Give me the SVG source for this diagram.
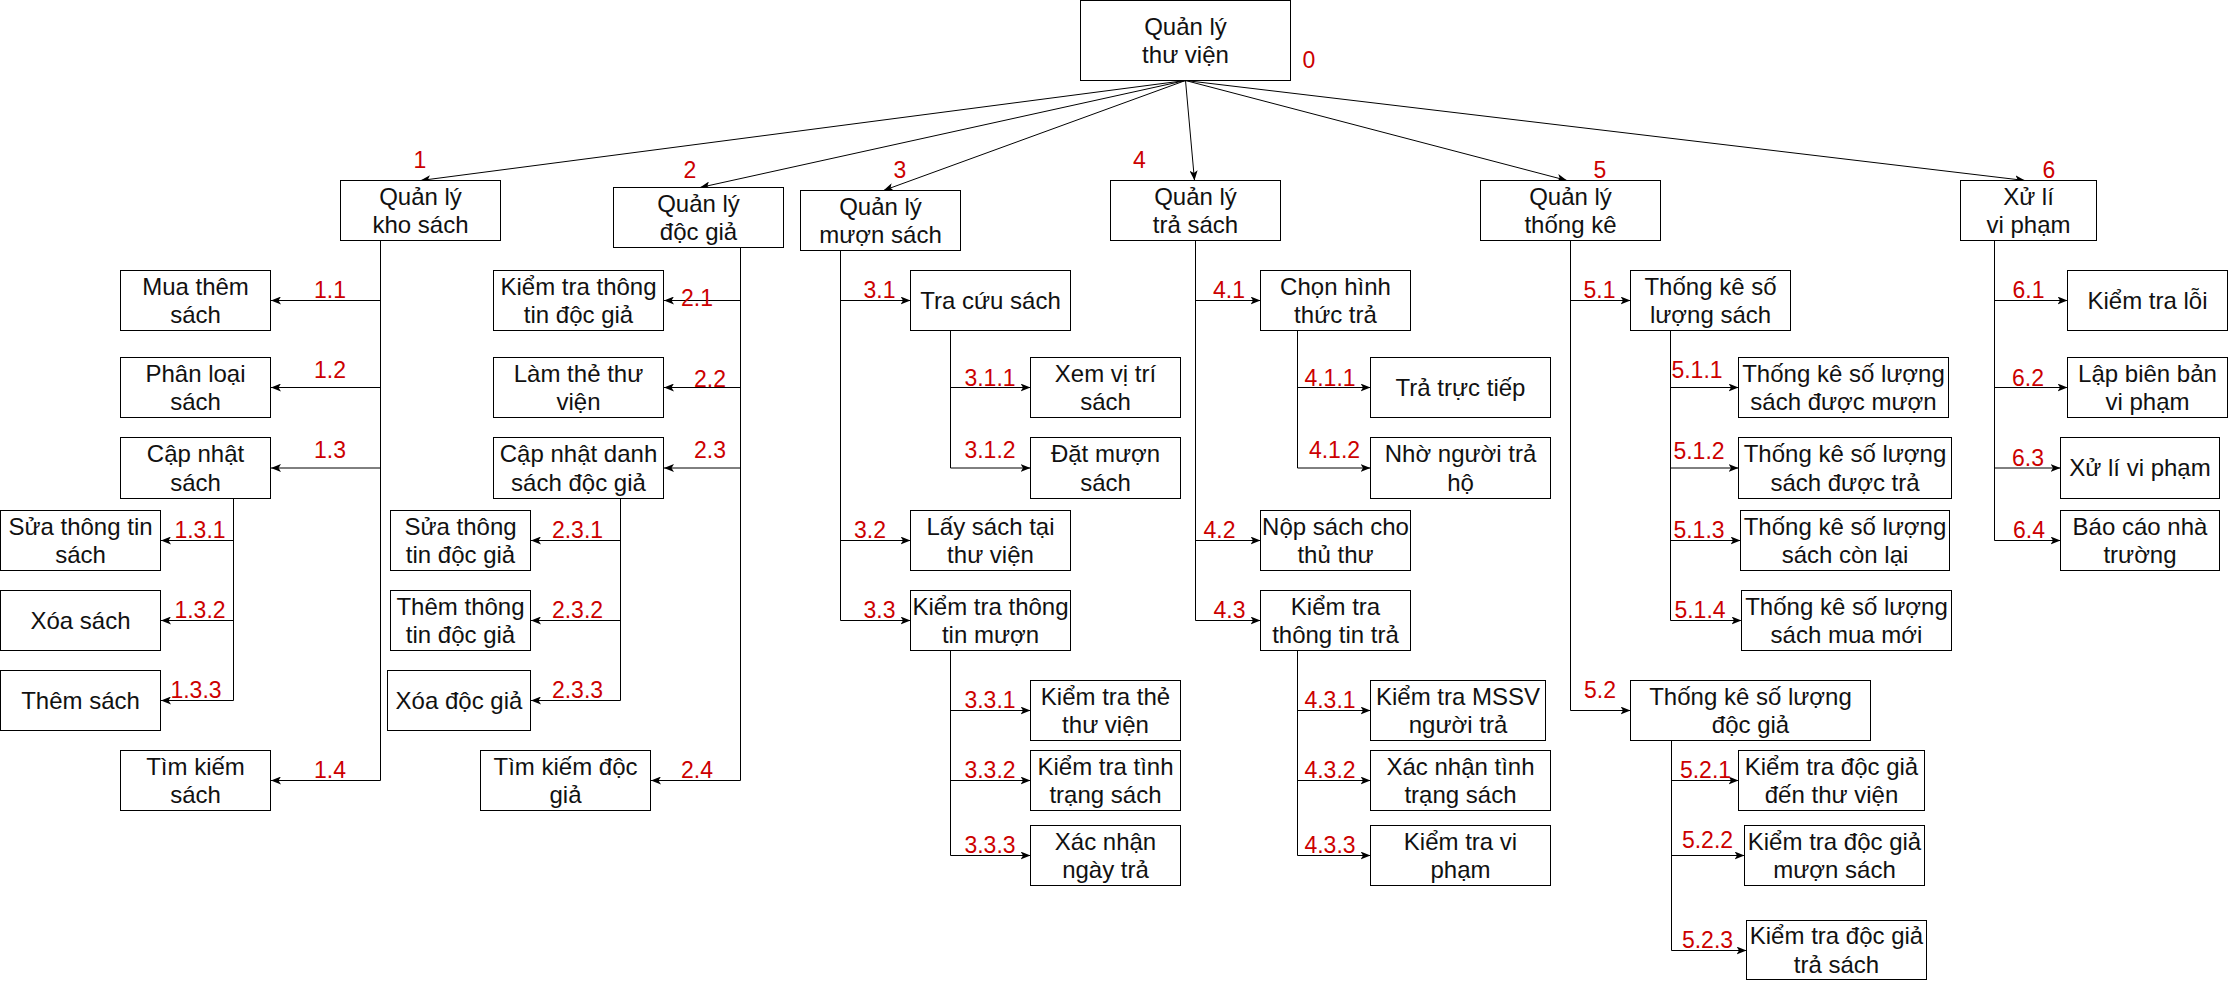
<svg xmlns="http://www.w3.org/2000/svg" width="2228" height="981" viewBox="0 0 2228 981">
  <style>
    .box { fill: #ffffff; stroke: #000000; stroke-width: 1; }
    .t { font-family: "Liberation Sans", Arial, sans-serif; font-size: 24px; fill: #111111; text-anchor: middle; }
    .n { font-family: "Liberation Sans", Arial, sans-serif; font-size: 23px; fill: #cc0000; text-anchor: middle; }
    .c { fill: none; stroke: #000000; stroke-width: 1; }
    .a { fill: none; stroke: #000000; stroke-width: 1; marker-end: url(#arrow); }
  </style>
  <defs>
    <marker id="arrow" viewBox="0 0 10 8" refX="10" refY="4" markerWidth="10" markerHeight="8" markerUnits="userSpaceOnUse" orient="auto">
      <path d="M0,0 L10,4 L0,8 L2.5,4 z" fill="#000000"/>
    </marker>
  </defs>
  <rect width="2228" height="981" fill="#ffffff"/>

  <!-- connectors -->
  <g id="connectors">
    <!-- root fan -->
    <path class="a" d="M1185.5,80.5 L420.5,180.5"/>
    <path class="a" d="M1185.5,80.5 L700,187.5"/>
    <path class="a" d="M1185.5,80.5 L883.5,190.5"/>
    <path class="a" d="M1185.5,80.5 L1194.5,180.5"/>
    <path class="a" d="M1185.5,80.5 L1567,180.5"/>
    <path class="a" d="M1185.5,80.5 L2025,180.5"/>

    <!-- branch 1 -->
    <path class="c" d="M380.5,240.5 V780.5"/>
    <path class="a" d="M380.5,300.5 H271"/>
    <path class="a" d="M380.5,387.5 H271"/>
    <path class="a" d="M380.5,468 H271"/>
    <path class="a" d="M380.5,780.5 H271"/>
    <path class="c" d="M233.5,498.5 V700.5"/>
    <path class="a" d="M233.5,540.5 H161"/>
    <path class="a" d="M233.5,620.5 H161"/>
    <path class="a" d="M233.5,700.5 H161"/>

    <!-- branch 2 -->
    <path class="c" d="M740.5,247.5 V780.5"/>
    <path class="a" d="M740.5,300.5 H664"/>
    <path class="a" d="M740.5,387.5 H664"/>
    <path class="a" d="M740.5,468 H664"/>
    <path class="a" d="M740.5,780.5 H651"/>
    <path class="c" d="M620.5,498.5 V700.5"/>
    <path class="a" d="M620.5,540.5 H531"/>
    <path class="a" d="M620.5,620.5 H531"/>
    <path class="a" d="M620.5,700.5 H531"/>

    <!-- branch 3 -->
    <path class="c" d="M840.5,250.5 V620.5"/>
    <path class="a" d="M840.5,300.5 H910.5"/>
    <path class="a" d="M840.5,540.5 H910.5"/>
    <path class="a" d="M840.5,620.5 H910.5"/>
    <path class="c" d="M950.5,330.5 V468"/>
    <path class="a" d="M950.5,387.5 H1030.5"/>
    <path class="a" d="M950.5,468 H1030.5"/>
    <path class="c" d="M950.5,650.5 V855.5"/>
    <path class="a" d="M950.5,710.5 H1030.5"/>
    <path class="a" d="M950.5,780.5 H1030.5"/>
    <path class="a" d="M950.5,855.5 H1030.5"/>

    <!-- branch 4 -->
    <path class="c" d="M1195.5,240.5 V620.5"/>
    <path class="a" d="M1195.5,300.5 H1260.5"/>
    <path class="a" d="M1195.5,540.5 H1260.5"/>
    <path class="a" d="M1195.5,620.5 H1260.5"/>
    <path class="c" d="M1297.5,330.5 V468"/>
    <path class="a" d="M1297.5,387.5 H1370.5"/>
    <path class="a" d="M1297.5,468 H1370.5"/>
    <path class="c" d="M1297.5,650.5 V855.5"/>
    <path class="a" d="M1297.5,710.5 H1370.5"/>
    <path class="a" d="M1297.5,780.5 H1370.5"/>
    <path class="a" d="M1297.5,855.5 H1370.5"/>

    <!-- branch 5 -->
    <path class="c" d="M1570.5,240.5 V710.5"/>
    <path class="a" d="M1570.5,300.5 H1630.5"/>
    <path class="a" d="M1570.5,710.5 H1630.5"/>
    <path class="c" d="M1670.5,330.5 V620.5"/>
    <path class="a" d="M1670.5,387.5 H1738.5"/>
    <path class="a" d="M1670.5,468 H1738.5"/>
    <path class="a" d="M1670.5,540.5 H1740.5"/>
    <path class="a" d="M1670.5,620.5 H1741.5"/>
    <path class="c" d="M1671.5,740.5 V950.5"/>
    <path class="a" d="M1671.5,780.5 H1738.5"/>
    <path class="a" d="M1671.5,855.5 H1744.5"/>
    <path class="a" d="M1671.5,950.5 H1746.5"/>

    <!-- branch 6 -->
    <path class="c" d="M1994.5,240.5 V540.5"/>
    <path class="a" d="M1994.5,300.5 H2067.5"/>
    <path class="a" d="M1994.5,387.5 H2067.5"/>
    <path class="a" d="M1994.5,468 H2060.5"/>
    <path class="a" d="M1994.5,540.5 H2060.5"/>
  </g>

  <!-- root -->
  <g id="n0">
    <rect class="box" x="1080.5" y="0.5" width="210" height="80"/>
    <text class="t" x="1185.5" y="35">Quản lý</text>
    <text class="t" x="1185.5" y="63">thư viện</text>
    <text class="n" x="1309" y="68">0</text>
  </g>

  <!-- level 1 -->
  <g id="n1">
    <rect class="box" x="340.5" y="180.5" width="160" height="60"/>
    <text class="t" x="420.5" y="204.5">Quản lý</text>
    <text class="t" x="420.5" y="233.2">kho sách</text>
    <text class="n" x="420" y="167.5">1</text>
  </g>
  <g id="n2">
    <rect class="box" x="613.5" y="187.5" width="170" height="60"/>
    <text class="t" x="698.5" y="211.5">Quản lý</text>
    <text class="t" x="698.5" y="240.2">độc giả</text>
    <text class="n" x="690" y="178">2</text>
  </g>
  <g id="n3">
    <rect class="box" x="800.5" y="190.5" width="160" height="60"/>
    <text class="t" x="880.5" y="214.5">Quản lý</text>
    <text class="t" x="880.5" y="243.2">mượn sách</text>
    <text class="n" x="900" y="178">3</text>
  </g>
  <g id="n4">
    <rect class="box" x="1110.5" y="180.5" width="170" height="60"/>
    <text class="t" x="1195.5" y="204.5">Quản lý</text>
    <text class="t" x="1195.5" y="233.2">trả sách</text>
    <text class="n" x="1139.5" y="168">4</text>
  </g>
  <g id="n5">
    <rect class="box" x="1480.5" y="180.5" width="180" height="60"/>
    <text class="t" x="1570.5" y="204.5">Quản lý</text>
    <text class="t" x="1570.5" y="233.2">thống kê</text>
    <text class="n" x="1600" y="177.5">5</text>
  </g>
  <g id="n6">
    <rect class="box" x="1960.5" y="180.5" width="136" height="60"/>
    <text class="t" x="2028.5" y="204.5">Xử lí</text>
    <text class="t" x="2028.5" y="233.2">vi phạm</text>
    <text class="n" x="2049" y="178">6</text>
  </g>

  <!-- branch 1 nodes -->
  <g id="n1-1">
    <rect class="box" x="120.5" y="270.5" width="150" height="60"/>
    <text class="t" x="195.5" y="294.5">Mua thêm</text>
    <text class="t" x="195.5" y="323.2">sách</text>
    <text class="n" x="330" y="298">1.1</text>
  </g>
  <g id="n1-2">
    <rect class="box" x="120.5" y="357.5" width="150" height="60"/>
    <text class="t" x="195.5" y="381.5">Phân loại</text>
    <text class="t" x="195.5" y="410.2">sách</text>
    <text class="n" x="330" y="378">1.2</text>
  </g>
  <g id="n1-3">
    <rect class="box" x="120.5" y="437.5" width="150" height="61"/>
    <text class="t" x="195.5" y="462">Cập nhật</text>
    <text class="t" x="195.5" y="490.7">sách</text>
    <text class="n" x="330" y="458">1.3</text>
  </g>
  <g id="n1-3-1">
    <rect class="box" x="0.5" y="510.5" width="160" height="60"/>
    <text class="t" x="80.5" y="534.5">Sửa thông tin</text>
    <text class="t" x="80.5" y="563.2">sách</text>
    <text class="n" x="200" y="538">1.3.1</text>
  </g>
  <g id="n1-3-2">
    <rect class="box" x="0.5" y="590.5" width="160" height="60"/>
    <text class="t" x="80.5" y="628.8">Xóa sách</text>
    <text class="n" x="200" y="618">1.3.2</text>
  </g>
  <g id="n1-3-3">
    <rect class="box" x="0.5" y="670.5" width="160" height="60"/>
    <text class="t" x="80.5" y="708.8">Thêm sách</text>
    <text class="n" x="196" y="698">1.3.3</text>
  </g>
  <g id="n1-4">
    <rect class="box" x="120.5" y="750.5" width="150" height="60"/>
    <text class="t" x="195.5" y="774.5">Tìm kiếm</text>
    <text class="t" x="195.5" y="803.2">sách</text>
    <text class="n" x="330" y="778">1.4</text>
  </g>

  <!-- branch 2 nodes -->
  <g id="n2-1">
    <rect class="box" x="493.5" y="270.5" width="170" height="60"/>
    <text class="t" x="578.5" y="294.5">Kiểm tra thông</text>
    <text class="t" x="578.5" y="323.2">tin độc giả</text>
    <text class="n" x="697" y="306">2.1</text>
  </g>
  <g id="n2-2">
    <rect class="box" x="493.5" y="357.5" width="170" height="60"/>
    <text class="t" x="578.5" y="381.5">Làm thẻ thư</text>
    <text class="t" x="578.5" y="410.2">viện</text>
    <text class="n" x="710" y="386.5">2.2</text>
  </g>
  <g id="n2-3">
    <rect class="box" x="493.5" y="437.5" width="170" height="61"/>
    <text class="t" x="578.5" y="462">Cập nhật danh</text>
    <text class="t" x="578.5" y="490.7">sách độc giả</text>
    <text class="n" x="710" y="458">2.3</text>
  </g>
  <g id="n2-3-1">
    <rect class="box" x="390.5" y="510.5" width="140" height="60"/>
    <text class="t" x="460.5" y="534.5">Sửa thông</text>
    <text class="t" x="460.5" y="563.2">tin độc giả</text>
    <text class="n" x="577.5" y="538">2.3.1</text>
  </g>
  <g id="n2-3-2">
    <rect class="box" x="390.5" y="590.5" width="140" height="60"/>
    <text class="t" x="460.5" y="614.5">Thêm thông</text>
    <text class="t" x="460.5" y="643.2">tin độc giả</text>
    <text class="n" x="577.5" y="618">2.3.2</text>
  </g>
  <g id="n2-3-3">
    <rect class="box" x="387.5" y="670.5" width="143" height="60"/>
    <text class="t" x="459" y="708.8">Xóa độc giả</text>
    <text class="n" x="577.5" y="698">2.3.3</text>
  </g>
  <g id="n2-4">
    <rect class="box" x="480.5" y="750.5" width="170" height="60"/>
    <text class="t" x="565.5" y="774.5">Tìm kiếm độc</text>
    <text class="t" x="565.5" y="803.2">giả</text>
    <text class="n" x="697" y="778">2.4</text>
  </g>

  <!-- branch 3 nodes -->
  <g id="n3-1">
    <rect class="box" x="910.5" y="270.5" width="160" height="60"/>
    <text class="t" x="990.5" y="308.8">Tra cứu sách</text>
    <text class="n" x="879.5" y="298">3.1</text>
  </g>
  <g id="n3-1-1">
    <rect class="box" x="1030.5" y="357.5" width="150" height="60"/>
    <text class="t" x="1105.5" y="381.5">Xem vị trí</text>
    <text class="t" x="1105.5" y="410.2">sách</text>
    <text class="n" x="990" y="386">3.1.1</text>
  </g>
  <g id="n3-1-2">
    <rect class="box" x="1030.5" y="437.5" width="150" height="61"/>
    <text class="t" x="1105.5" y="462">Đặt mượn</text>
    <text class="t" x="1105.5" y="490.7">sách</text>
    <text class="n" x="990" y="458">3.1.2</text>
  </g>
  <g id="n3-2">
    <rect class="box" x="910.5" y="510.5" width="160" height="60"/>
    <text class="t" x="990.5" y="534.5">Lấy sách tại</text>
    <text class="t" x="990.5" y="563.2">thư viện</text>
    <text class="n" x="870" y="538">3.2</text>
  </g>
  <g id="n3-3">
    <rect class="box" x="910.5" y="590.5" width="160" height="60"/>
    <text class="t" x="990.5" y="614.5">Kiểm tra thông</text>
    <text class="t" x="990.5" y="643.2">tin mượn</text>
    <text class="n" x="879.5" y="618">3.3</text>
  </g>
  <g id="n3-3-1">
    <rect class="box" x="1030.5" y="680.5" width="150" height="60"/>
    <text class="t" x="1105.5" y="704.5">Kiểm tra thẻ</text>
    <text class="t" x="1105.5" y="733.2">thư viện</text>
    <text class="n" x="990" y="707.5">3.3.1</text>
  </g>
  <g id="n3-3-2">
    <rect class="box" x="1030.5" y="750.5" width="150" height="60"/>
    <text class="t" x="1105.5" y="774.5">Kiểm tra tình</text>
    <text class="t" x="1105.5" y="803.2">trạng sách</text>
    <text class="n" x="990" y="777.5">3.3.2</text>
  </g>
  <g id="n3-3-3">
    <rect class="box" x="1030.5" y="825.5" width="150" height="60"/>
    <text class="t" x="1105.5" y="849.5">Xác nhận</text>
    <text class="t" x="1105.5" y="878.2">ngày trả</text>
    <text class="n" x="990" y="852.5">3.3.3</text>
  </g>

  <!-- branch 4 nodes -->
  <g id="n4-1">
    <rect class="box" x="1260.5" y="270.5" width="150" height="60"/>
    <text class="t" x="1335.5" y="294.5">Chọn hình</text>
    <text class="t" x="1335.5" y="323.2">thức trả</text>
    <text class="n" x="1229" y="298">4.1</text>
  </g>
  <g id="n4-1-1">
    <rect class="box" x="1370.5" y="357.5" width="180" height="60"/>
    <text class="t" x="1460.5" y="395.8">Trả trực tiếp</text>
    <text class="n" x="1330" y="386">4.1.1</text>
  </g>
  <g id="n4-1-2">
    <rect class="box" x="1370.5" y="437.5" width="180" height="61"/>
    <text class="t" x="1460.5" y="462">Nhờ người trả</text>
    <text class="t" x="1460.5" y="490.7">hộ</text>
    <text class="n" x="1334.5" y="458">4.1.2</text>
  </g>
  <g id="n4-2">
    <rect class="box" x="1260.5" y="510.5" width="150" height="60"/>
    <text class="t" x="1335.5" y="534.5">Nộp sách cho</text>
    <text class="t" x="1335.5" y="563.2">thủ thư</text>
    <text class="n" x="1219.5" y="538">4.2</text>
  </g>
  <g id="n4-3">
    <rect class="box" x="1260.5" y="590.5" width="150" height="60"/>
    <text class="t" x="1335.5" y="614.5">Kiểm tra</text>
    <text class="t" x="1335.5" y="643.2">thông tin trả</text>
    <text class="n" x="1229.5" y="618">4.3</text>
  </g>
  <g id="n4-3-1">
    <rect class="box" x="1370.5" y="680.5" width="175" height="60"/>
    <text class="t" x="1458" y="704.5">Kiểm tra MSSV</text>
    <text class="t" x="1458" y="733.2">người trả</text>
    <text class="n" x="1330" y="707.5">4.3.1</text>
  </g>
  <g id="n4-3-2">
    <rect class="box" x="1370.5" y="750.5" width="180" height="60"/>
    <text class="t" x="1460.5" y="774.5">Xác nhận tình</text>
    <text class="t" x="1460.5" y="803.2">trạng sách</text>
    <text class="n" x="1330" y="777.5">4.3.2</text>
  </g>
  <g id="n4-3-3">
    <rect class="box" x="1370.5" y="825.5" width="180" height="60"/>
    <text class="t" x="1460.5" y="849.5">Kiểm tra vi</text>
    <text class="t" x="1460.5" y="878.2">phạm</text>
    <text class="n" x="1330" y="852.5">4.3.3</text>
  </g>

  <!-- branch 5 nodes -->
  <g id="n5-1">
    <rect class="box" x="1630.5" y="270.5" width="160" height="60"/>
    <text class="t" x="1710.5" y="294.5">Thống kê số</text>
    <text class="t" x="1710.5" y="323.2">lượng sách</text>
    <text class="n" x="1599.5" y="298">5.1</text>
  </g>
  <g id="n5-1-1">
    <rect class="box" x="1738.5" y="357.5" width="210" height="60"/>
    <text class="t" x="1843.5" y="381.5">Thống kê số lượng</text>
    <text class="t" x="1843.5" y="410.2">sách được mượn</text>
    <text class="n" x="1697" y="377.5">5.1.1</text>
  </g>
  <g id="n5-1-2">
    <rect class="box" x="1738.5" y="437.5" width="213" height="61"/>
    <text class="t" x="1845" y="462">Thống kê số lượng</text>
    <text class="t" x="1845" y="490.7">sách được trả</text>
    <text class="n" x="1699" y="458.5">5.1.2</text>
  </g>
  <g id="n5-1-3">
    <rect class="box" x="1740.5" y="510.5" width="209" height="60"/>
    <text class="t" x="1845" y="534.5">Thống kê số lượng</text>
    <text class="t" x="1845" y="563.2">sách còn lại</text>
    <text class="n" x="1699" y="538">5.1.3</text>
  </g>
  <g id="n5-1-4">
    <rect class="box" x="1741.5" y="590.5" width="210" height="60"/>
    <text class="t" x="1846.5" y="614.5">Thống kê số lượng</text>
    <text class="t" x="1846.5" y="643.2">sách mua mới</text>
    <text class="n" x="1700" y="617.5">5.1.4</text>
  </g>
  <g id="n5-2">
    <rect class="box" x="1630.5" y="680.5" width="240" height="60"/>
    <text class="t" x="1750.5" y="704.5">Thống kê số lượng</text>
    <text class="t" x="1750.5" y="733.2">độc giả</text>
    <text class="n" x="1600" y="698">5.2</text>
  </g>
  <g id="n5-2-1">
    <rect class="box" x="1738.5" y="750.5" width="186" height="60"/>
    <text class="t" x="1831.5" y="774.5">Kiểm tra độc giả</text>
    <text class="t" x="1831.5" y="803.2">đến thư viện</text>
    <text class="n" x="1705.5" y="777.5">5.2.1</text>
  </g>
  <g id="n5-2-2">
    <rect class="box" x="1744.5" y="825.5" width="180" height="60"/>
    <text class="t" x="1834.5" y="849.5">Kiểm tra độc giả</text>
    <text class="t" x="1834.5" y="878.2">mượn sách</text>
    <text class="n" x="1707.5" y="848">5.2.2</text>
  </g>
  <g id="n5-2-3">
    <rect class="box" x="1746.5" y="920.5" width="180" height="59"/>
    <text class="t" x="1836.5" y="944">Kiểm tra độc giả</text>
    <text class="t" x="1836.5" y="972.7">trả sách</text>
    <text class="n" x="1707.5" y="947.5">5.2.3</text>
  </g>

  <!-- branch 6 nodes -->
  <g id="n6-1">
    <rect class="box" x="2067.5" y="270.5" width="160" height="60"/>
    <text class="t" x="2147.5" y="308.8">Kiểm tra lỗi</text>
    <text class="n" x="2028.5" y="298">6.1</text>
  </g>
  <g id="n6-2">
    <rect class="box" x="2067.5" y="357.5" width="160" height="60"/>
    <text class="t" x="2147.5" y="381.5">Lập biên bản</text>
    <text class="t" x="2147.5" y="410.2">vi phạm</text>
    <text class="n" x="2028" y="386">6.2</text>
  </g>
  <g id="n6-3">
    <rect class="box" x="2060.5" y="437.5" width="159" height="61"/>
    <text class="t" x="2140" y="476.3">Xử lí vi phạm</text>
    <text class="n" x="2028" y="466">6.3</text>
  </g>
  <g id="n6-4">
    <rect class="box" x="2060.5" y="510.5" width="159" height="60"/>
    <text class="t" x="2140" y="534.5">Báo cáo nhà</text>
    <text class="t" x="2140" y="563.2">trường</text>
    <text class="n" x="2029" y="538">6.4</text>
  </g>
</svg>
